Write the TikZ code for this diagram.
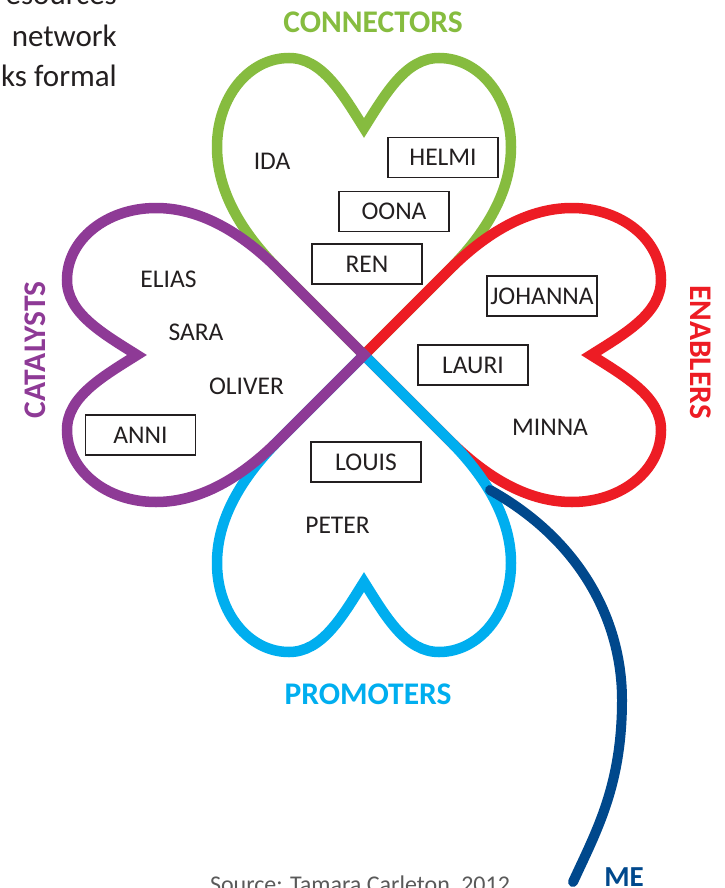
\documentclass[tikz,border=0pt]{standalone}
\usepackage{fontspec}
\setmainfont{Carlito}
\definecolor{cgreen}{RGB}{134,188,63}
\definecolor{cred}{RGB}{237,28,36}
\definecolor{cblue}{RGB}{0,174,239}
\definecolor{cpurple}{RGB}{142,58,150}
\definecolor{cdark}{RGB}{0,72,140}
\definecolor{ctext}{RGB}{35,31,32}
\definecolor{cgray}{RGB}{90,90,90}
\tikzset{
  heart/.pic={
    \draw[pic actions] (0,0) -- (85,-85)
      .. controls (118,-118) and (147,-160) .. (147,-208)
      .. controls (147,-258) and (115,-297) .. (75,-297)
      .. controls (42,-297) and (22,-262) .. (0,-227)
      .. controls (-22,-262) and (-42,-297) .. (-75,-297)
      .. controls (-115,-297) and (-147,-258) .. (-147,-208)
      .. controls (-147,-160) and (-118,-118) .. (-85,-85) -- cycle;
  },
  heartline/.style={line width=10.5pt, line join=miter, miter limit=10},
  titletext/.style={font=\bfseries\fontsize{31.5}{34}\selectfont, inner sep=0pt, text height=20.3pt, text depth=0pt},
  nametext/.style={font=\fontsize{25.5}{28}\selectfont, text=ctext, inner sep=0pt, text height=16.4pt, text depth=0pt},
  namebox/.style={nametext, draw=ctext, line width=1.8pt, minimum width=110pt, minimum height=40pt},
  meline/.style={draw=cdark, line width=10pt, line cap=round},
  paratext/.style={font=\fontsize{31}{41}\selectfont, text=ctext, inner sep=0pt, anchor=base east}
}
\begin{document}
\begin{tikzpicture}[x=1pt,y=-1pt]
\useasboundingbox (0,0) rectangle (724,888);
\fill[white] (0,0) rectangle (724,888);
% paragraph fragment
\node[paratext] (p1) at (117,5) {esources};
\node[paratext] (p2) at (117,47) {network};
\node[paratext] (p3) at (117,87) {ks formal};
% hearts
\pic (hgreen) [draw=cgreen, heartline] at (364,355) {heart};
\pic (hred) [draw=cred, heartline, rotate=-90] at (364,355) {heart};
\pic (hblue) [draw=cblue, heartline, rotate=180] at (364,355) {heart};
\pic (hpurple) [draw=cpurple, heartline, rotate=90] at (364,355) {heart};
% titles
\node[titletext, text=cgreen] (conn) at (373,22) {CONNECTORS};
\node[titletext, text=cblue] (prom) at (368,694) {PROMOTERS};
\node[titletext, text=cpurple, rotate=90] (cat) at (35,350) {CATALYSTS};
\node[titletext, text=cred, rotate=-90] (ena) at (701,352) {ENABLERS};
% connectors names
\node[nametext] (ida) at (272,161) {IDA};
\node[namebox] (helmi) at (443,157.5) {HELMI};
\node[namebox] (oona) at (394,211.5) {OONA};
\node[namebox] (ren) at (367,264) {REN};
% catalysts
\node[nametext] (elias) at (168.5,279) {ELIAS};
\node[nametext] (sara) at (196,332) {SARA};
\node[nametext] (oliver) at (246.5,386) {OLIVER};
\node[namebox] (anni) at (140.5,435) {ANNI};
% enablers
\node[namebox] (johanna) at (542,296) {JOHANNA};
\node[namebox] (lauri) at (473,365) {LAURI};
\node[nametext] (minna) at (550,427.5) {MINNA};
% promoters
\node[namebox] (louis) at (366,462) {LOUIS};
\node[nametext] (peter) at (337.5,525) {PETER};
% ME
\coordinate (mestart) at (490,490);
\coordinate (meend) at (573,882);
\draw[meline] (mestart) .. controls (580,540) and (622,620) .. (622,700)
  .. controls (622,785) and (597,830) .. (meend);
\node[titletext, font=\bfseries\fontsize{29}{32}\selectfont, text height=18.7pt, text=cdark] (me) at (624,877) {ME};
% source
\node[font=\fontsize{24}{26}\selectfont, text=cgray, inner sep=0pt, anchor=base] (src) at (360,892) {Source: Tamara Carleton, 2012};
\end{tikzpicture}
\end{document}
